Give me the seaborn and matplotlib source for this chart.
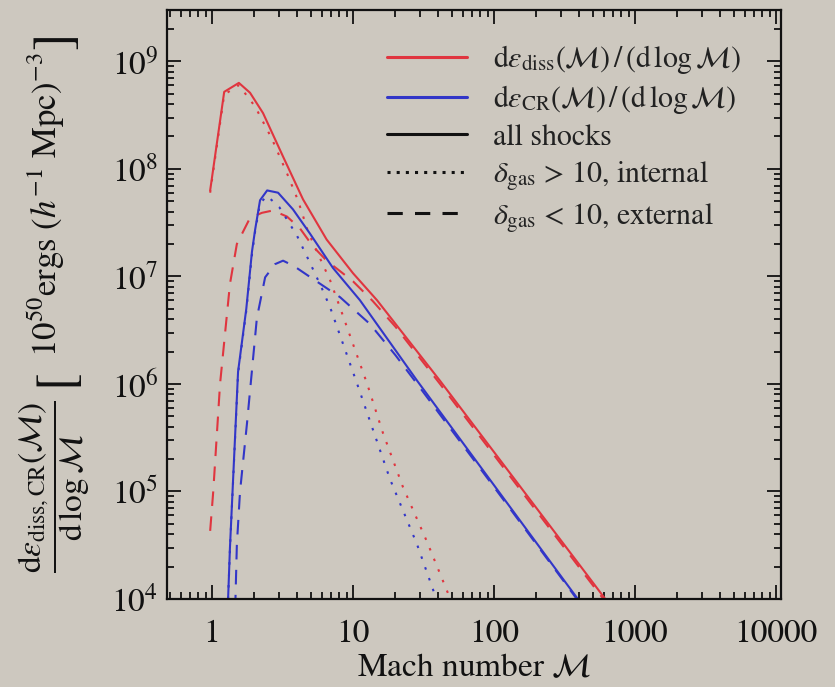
import numpy as np
import pandas as pd
import matplotlib
matplotlib.use("Agg")
import matplotlib.pyplot as plt
import seaborn as sns
from matplotlib.lines import Line2D
from matplotlib.ticker import FixedLocator, FixedFormatter, LogLocator, NullFormatter

# ---------------- data ----------------
# dissipated energy, all shocks (red solid)
mach_diss_all = [0.97, 1.22, 1.55, 1.86, 2.30, 3.19, 4.42, 6.5, 10, 14.8, 41.4, 480, 615]
diss_all = [6.3e7, 5.2e8, 6.3e8, 5.1e8, 3.3e8, 1.3e8, 5.2e7, 2.2e7, 1.07e7, 6.0e6, 1.07e6, 1.54e4, 1.0e4]
# dissipated energy, internal shocks (red dotted)
mach_diss_int = [0.97, 1.22, 1.55, 2.02, 2.66, 3.4, 4.07, 4.8, 5.55, 6.9, 8.1, 12.6, 16.3, 22.6, 33.5, 49, 55]
diss_int = [6.0e7, 4.9e8, 6.0e8, 3.8e8, 1.9e8, 9.1e7, 5.1e7, 2.6e7, 1.7e7, 9.1e6, 5.1e6, 1.0e6, 3.5e5, 1.1e5, 3.4e4, 1.0e4, 7.0e3]
# dissipated energy, external shocks (red dashed)
mach_diss_ext = [0.97, 1.02, 1.14, 1.34, 1.50, 1.86, 2.26, 2.7, 3.4, 4.2, 5.2, 6.5, 10, 13.8, 20, 41.4, 480, 615]
diss_ext = [4.3e4, 1.0e5, 1.0e6, 8.5e6, 2.0e7, 3.5e7, 3.9e7, 4.1e7, 3.6e7, 2.8e7, 1.9e7, 1.4e7, 9.0e6, 5.9e6, 3.4e6, 1.0e6, 1.45e4, 9.5e3]

# CR energy, all shocks (blue solid)
mach_cr_all = [1.30, 1.34, 1.53, 1.75, 1.92, 2.02, 2.19, 2.46, 2.94, 3.75, 4.95, 7.2, 11.2, 28.5, 308, 393]
cr_all = [1.0e4, 3.0e4, 1.3e6, 5.0e6, 1.7e7, 2.7e7, 5.1e7, 6.3e7, 6.0e7, 4.2e7, 2.5e7, 1.2e7, 6.0e6, 1.07e6, 1.54e4, 1.0e4]
# CR energy, internal shocks (blue dotted)
mach_cr_int = [1.30, 1.34, 1.53, 1.75, 1.92, 2.02, 2.19, 2.46, 3.0, 4.0, 5.0, 6.0, 6.9, 10.7, 13.2, 18.3, 28.5, 39, 45]
cr_int = [1.0e4, 2.9e4, 1.25e6, 4.8e6, 1.6e7, 2.6e7, 4.8e7, 5.6e7, 4.4e7, 2.4e7, 1.3e7, 7.8e6, 5.1e6, 1.0e6, 4.5e5, 1.3e5, 3.2e4, 1.0e4, 6.0e3]
# CR energy, external shocks (blue dashed)
mach_cr_ext = [1.46, 1.50, 1.58, 1.77, 1.86, 2.08, 2.38, 2.8, 3.19, 3.8, 5.0, 8.1, 13.2, 20, 28.5, 100, 308, 393]
cr_ext = [8.0e3, 3.2e4, 1.0e5, 4.3e5, 8.6e5, 4.1e6, 9.8e6, 1.3e7, 1.4e7, 1.25e7, 9.8e6, 6.4e6, 3.6e6, 1.85e6, 1.0e6, 1.1e5, 1.5e4, 9.7e3]

x_ticks = [1, 10, 100, 1000, 10000]
x_tick_labels = ["1", "10", "100", "1000", "10000"]
y_ticks = [1e4, 1e5, 1e6, 1e7, 1e8, 1e9]
y_tick_labels = [r"$10^{4}$", r"$10^{5}$", r"$10^{6}$", r"$10^{7}$", r"$10^{8}$", r"$10^{9}$"]

legend_labels = [
    r"$\mathrm{d}\varepsilon_{\mathrm{diss}}(\mathcal{M})\,/\,(\mathrm{d}\,\log\mathcal{M})$",
    r"$\mathrm{d}\varepsilon_{\mathrm{CR}}(\mathcal{M})\,/\,(\mathrm{d}\,\log\mathcal{M})$",
    "all shocks",
    r"$\delta_{\mathrm{gas}}$ > 10, internal",
    r"$\delta_{\mathrm{gas}}$ < 10, external",
]
ylabel_frac = r"$\dfrac{\mathrm{d}\varepsilon_{\mathrm{diss,CR}}(\mathcal{M})}{\mathrm{d}\,\log\mathcal{M}}$"
ylabel_units = r"$10^{50}\mathrm{ergs}\ (h^{-1}\ \mathrm{Mpc})^{-3}$"
xlabel_text = r"Mach number $\mathcal{M}$"

# ---------------- style ----------------
BG = "#cdc8bf"
RED = "#e0353f"
BLUE = "#3236c8"
INK = "#111111"
sns.set_theme(style="ticks")
plt.rcParams["font.family"] = ["STIXGeneral", "Liberation Serif", "DejaVu Serif"]
plt.rcParams["mathtext.fontset"] = "stix"
plt.rcParams["figure.facecolor"] = BG
plt.rcParams["axes.facecolor"] = BG
plt.rcParams["savefig.facecolor"] = BG

W, H = 835, 687
fig = plt.figure(figsize=(W / 100, H / 100), dpi=100)
ax = fig.add_axes([166.7 / W, 1 - 599 / H, (781 - 166.7) / W, (599 - 10) / H])

DOT = (0, (1.2, 4.3))
DASH = (0, (7.0, 5.0))

series = [
    (mach_diss_all, diss_all, RED, "-"),
    (mach_diss_int, diss_int, RED, DOT),
    (mach_diss_ext, diss_ext, RED, DASH),
    (mach_cr_all, cr_all, BLUE, "-"),
    (mach_cr_int, cr_int, BLUE, DOT),
    (mach_cr_ext, cr_ext, BLUE, DASH),
]
for xs, ys, col, ls in series:
    df = pd.DataFrame({"mach": xs, "e": ys})
    sns.lineplot(data=df, x="mach", y="e", ax=ax, color=col, linestyle=ls,
                 linewidth=1.5, sort=False, estimator=None, legend=False)

ax.set_xscale("log")
ax.set_yscale("log")
ax.set_xlim(0.477, 1.085e4)
ax.set_ylim(1e4, 3.0e9)

ax.xaxis.set_major_locator(FixedLocator(x_ticks))
ax.xaxis.set_major_formatter(FixedFormatter(x_tick_labels))
ax.yaxis.set_major_locator(FixedLocator(y_ticks))
ax.yaxis.set_major_formatter(FixedFormatter(y_tick_labels))
ax.xaxis.set_minor_locator(LogLocator(base=10, subs=np.arange(2, 10), numticks=20))
ax.yaxis.set_minor_locator(LogLocator(base=10, subs=np.arange(2, 10), numticks=20))
ax.xaxis.set_minor_formatter(NullFormatter())
ax.yaxis.set_minor_formatter(NullFormatter())

ax.tick_params(which="both", direction="in", top=True, right=True, colors=INK,
               labelsize=24, width=1.3)
ax.tick_params(which="major", length=10)
ax.tick_params(which="minor", length=5)
ax.tick_params(axis="x", which="major", pad=14.5)
ax.tick_params(axis="y", which="major", pad=6)
for s in ax.spines.values():
    s.set_linewidth(1.6)
    s.set_color(INK)

ax.set_xlabel(xlabel_text, fontsize=24, color=INK, labelpad=4)
ax.set_ylabel("")

# y label: fraction, tall brackets and units, all rotated
def ftext(px, py, s, size, **kw):
    fig.text(px / W, 1 - py / H, s, rotation=90, ha="center", va="center",
             rotation_mode="anchor", fontsize=size, color=INK, **kw)

ftext(54, 487, ylabel_frac, 24)
ftext(57, 377, "[", 38)
ftext(46, 205, ylabel_units, 25)
ftext(57, 40, "]", 38)

handles = [
    Line2D([], [], color=RED, lw=2.2),
    Line2D([], [], color=BLUE, lw=2.2),
    Line2D([], [], color=INK, lw=2.2, linestyle="-"),
    Line2D([], [], color=INK, lw=2.2, linestyle=(0, (1.0, 2.0))),
    Line2D([], [], color=INK, lw=2.2, linestyle=(0, (5.0, 4.0))),
]
leg = ax.legend(handles, legend_labels, loc="upper left",
                bbox_to_anchor=(387 / W, 1 - 43 / H), bbox_transform=fig.transFigure,
                frameon=False, fontsize=21.5, handlelength=2.68, handletextpad=0.87,
                labelspacing=0.25, borderpad=0, borderaxespad=0)
for t in leg.get_texts():
    t.set_color("#222222")

fig.savefig("out.png", dpi=100, facecolor=BG)
